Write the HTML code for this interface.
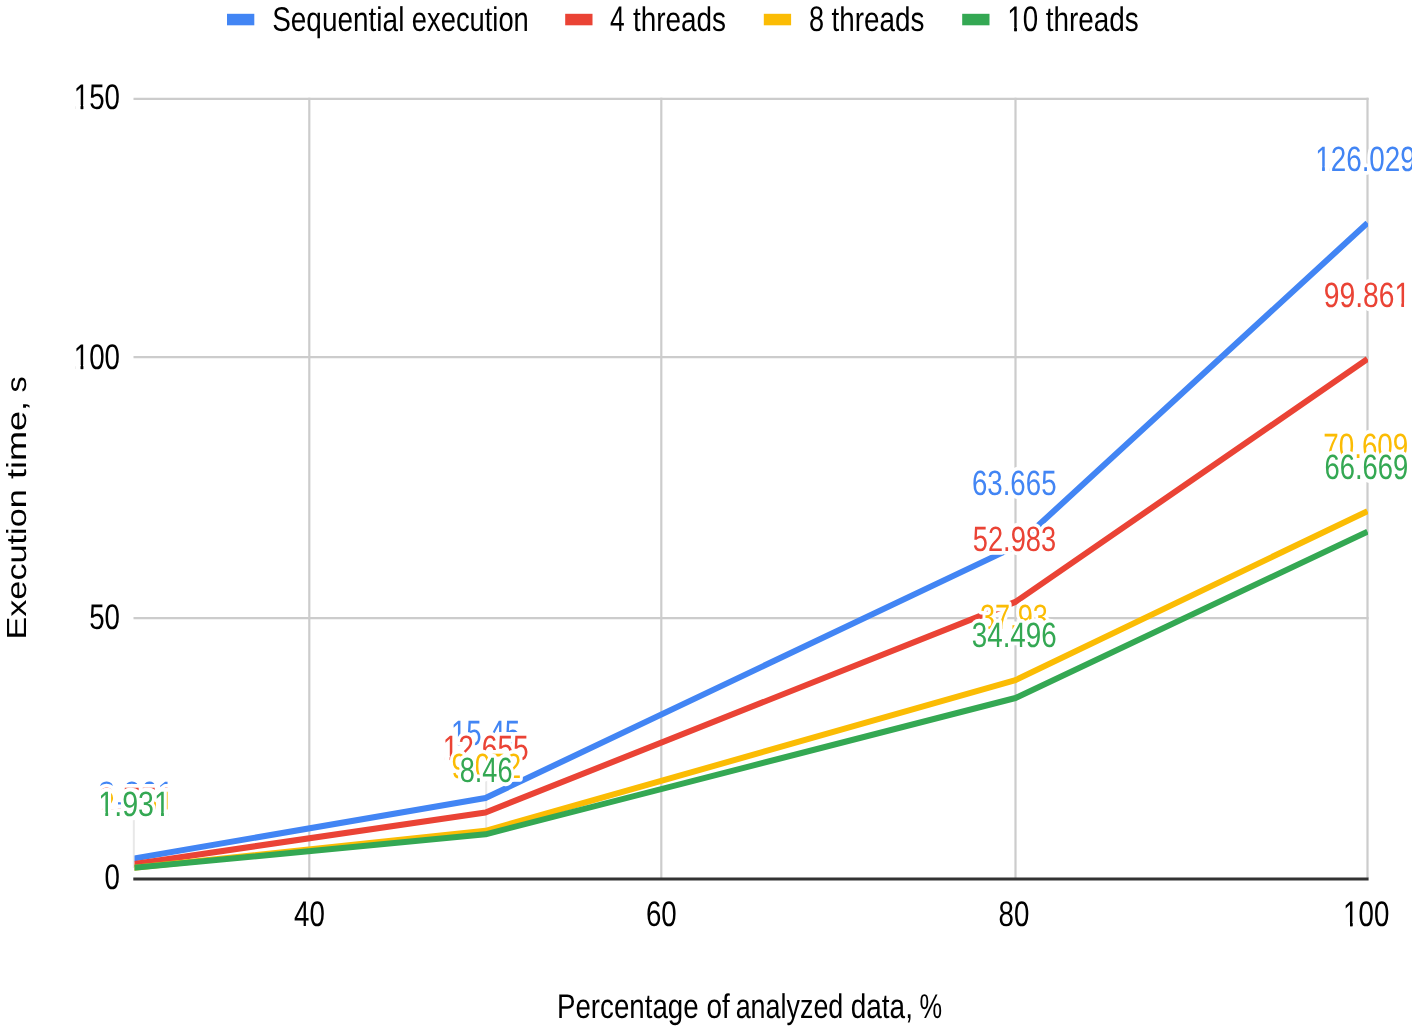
<!DOCTYPE html>
<html><head><meta charset="utf-8"><title>Execution time chart</title><style>
html,body{margin:0;padding:0;background:#fff;width:1417px;height:1032px;overflow:hidden}
svg{display:block;will-change:transform}
text{font-family:"Liberation Sans",sans-serif;text-rendering:geometricPrecision;font-kerning:none}
</style></head><body>
<svg width="1417" height="1032" viewBox="0 0 1417 1032">
<defs>
<clipPath id="plot"><rect x="134.5" y="60" width="1233.5" height="820"/></clipPath>
<clipPath id="lab"><rect x="60" y="60" width="1352" height="820"/></clipPath>
</defs>
<rect width="1417" height="1032" fill="#fff"/>
<rect x="227" y="13.8" width="27.3" height="11.5" fill="#4285F4"/>
<rect x="565.2" y="13.8" width="27.3" height="11.5" fill="#EA4335"/>
<rect x="763.8" y="13.8" width="27.3" height="11.5" fill="#FBBC04"/>
<rect x="962.2" y="13.8" width="27.3" height="11.5" fill="#34A853"/>
<g transform="translate(272.13,31.35) scale(0.8158,1)"><text x="0.000" y="0" font-size="34.3" fill="#000000" >Sequential</text></g>
<g transform="translate(411.84,31.35) scale(0.7964,1)"><text x="0.000" y="0" font-size="34.3" fill="#000000" >execution</text></g>
<g transform="translate(610.09,31.35) scale(0.7435,1)"><text x="0.000" y="0" font-size="35.5" fill="#000000" >4</text></g>
<g transform="translate(632.88,31.35) scale(0.8140,1)"><text x="0.000" y="0" font-size="34.3" fill="#000000" >threads</text></g>
<g transform="translate(809.02,31.35) scale(0.7624,1)"><text x="0.000" y="0" font-size="35.5" fill="#000000" >8</text></g>
<g transform="translate(831.58,31.35) scale(0.8114,1)"><text x="0.000" y="0" font-size="34.3" fill="#000000" >threads</text></g>
<g transform="translate(1007.33,31.35) scale(0.7813,1)"><text x="0.000" y="0" font-size="35.5" fill="#000000" >10</text><rect x="2.080" y="-4.160" width="6.795" height="5.027" fill="#fff"/><rect x="12.116" y="-4.160" width="6.431" height="5.027" fill="#fff"/><rect x="8.927" y="-3.293" width="3.137" height="3.293" fill="#000000"/></g>
<g transform="translate(1045.78,31.35) scale(0.8132,1)"><text x="0.000" y="0" font-size="34.3" fill="#000000" >threads</text></g>
<g stroke="#e8e8e8" stroke-width="2">
<line x1="486.2" y1="770" x2="486.2" y2="834"/>
<line x1="133.8" y1="805" x2="133.8" y2="868"/>
</g>
<g stroke="#cccccc" stroke-width="2.2">
<line x1="133.5" y1="98.9" x2="1368.6" y2="98.9"/>
<line x1="133.5" y1="357.1" x2="1368.6" y2="357.1"/>
<line x1="133.5" y1="618.1" x2="1368.6" y2="618.1"/>
<line x1="309.3" y1="97.8" x2="309.3" y2="878"/>
<line x1="661.3" y1="97.8" x2="661.3" y2="878"/>
<line x1="1015.5" y1="97.8" x2="1015.5" y2="878"/>
<line x1="1367.5" y1="97.8" x2="1367.5" y2="878"/>
</g>
<g clip-path="url(#plot)" fill="none" stroke-width="6" stroke-linejoin="round">
<path d="M133.50,858.59 L485.50,797.96 L1015.50,546.34 L1367.50,222.95" stroke="#4285F4"/>
<path d="M133.50,864.05 L485.50,812.49 L1015.50,601.89 L1367.50,359.02" stroke="#EA4335"/>
<path d="M133.50,867.90 L485.50,830.82 L1015.50,680.16 L1367.50,511.13" stroke="#FBBC04"/>
<path d="M133.50,867.90 L485.50,834.31 L1015.50,698.02 L1367.50,531.62" stroke="#34A853"/>
</g>
<line x1="133.3" y1="879" x2="1368.6" y2="879" stroke="#333333" stroke-width="3"/>
<g clip-path="url(#lab)">
<g transform="translate(98.35,806.20) scale(0.8593,1)"><text x="0.000" y="0" font-size="35.2" fill="#4285F4" stroke="#fff" stroke-width="7.6" stroke-linejoin="round" paint-order="stroke">3.861</text><rect x="70.572" y="-4.125" width="6.738" height="4.984" fill="#fff"/><rect x="80.523" y="-4.125" width="6.377" height="4.984" fill="#fff"/><rect x="77.361" y="-3.266" width="3.111" height="3.266" fill="#4285F4"/></g>
<g transform="translate(450.94,745.40) scale(0.7859,1)"><text x="0.000" y="0" font-size="35.2" fill="#4285F4" stroke="#fff" stroke-width="7.6" stroke-linejoin="round" paint-order="stroke">15.45</text><rect x="2.062" y="-4.125" width="6.738" height="4.984" fill="#fff"/><rect x="12.014" y="-4.125" width="6.377" height="4.984" fill="#fff"/><rect x="8.852" y="-3.266" width="3.111" height="3.266" fill="#4285F4"/></g>
<g transform="translate(971.89,495.10) scale(0.7864,1)"><text x="0.000" y="0" font-size="35.2" fill="#4285F4" stroke="#fff" stroke-width="7.6" stroke-linejoin="round" paint-order="stroke">63.665</text></g>
<g transform="translate(1315.22,170.50) scale(0.7906,1)"><text x="0.000" y="0" font-size="35.2" fill="#4285F4" stroke="#fff" stroke-width="7.6" stroke-linejoin="round" paint-order="stroke">126.029</text><rect x="2.062" y="-4.125" width="6.738" height="4.984" fill="#fff"/><rect x="12.014" y="-4.125" width="6.377" height="4.984" fill="#fff"/><rect x="8.852" y="-3.266" width="3.111" height="3.266" fill="#4285F4"/></g>
<g transform="translate(97.97,811.90) scale(0.8640,1)"><text x="0.000" y="0" font-size="35.2" fill="#EA4335" stroke="#fff" stroke-width="7.6" stroke-linejoin="round" paint-order="stroke">2.751</text><rect x="70.572" y="-4.125" width="6.738" height="4.984" fill="#fff"/><rect x="80.523" y="-4.125" width="6.377" height="4.984" fill="#fff"/><rect x="77.361" y="-3.266" width="3.111" height="3.266" fill="#EA4335"/></g>
<g transform="translate(442.69,760.20) scale(0.7996,1)"><text x="0.000" y="0" font-size="35.2" fill="#EA4335" stroke="#fff" stroke-width="7.6" stroke-linejoin="round" paint-order="stroke">12.655</text><rect x="2.062" y="-4.125" width="6.738" height="4.984" fill="#fff"/><rect x="12.014" y="-4.125" width="6.377" height="4.984" fill="#fff"/><rect x="8.852" y="-3.266" width="3.111" height="3.266" fill="#EA4335"/></g>
<g transform="translate(972.81,550.50) scale(0.7736,1)"><text x="0.000" y="0" font-size="35.2" fill="#EA4335" stroke="#fff" stroke-width="7.6" stroke-linejoin="round" paint-order="stroke">52.983</text></g>
<g transform="translate(1323.78,306.60) scale(0.8018,1)"><text x="0.000" y="0" font-size="35.2" fill="#EA4335" stroke="#fff" stroke-width="7.6" stroke-linejoin="round" paint-order="stroke">99.861</text><rect x="90.148" y="-4.125" width="6.738" height="4.984" fill="#fff"/><rect x="100.100" y="-4.125" width="6.377" height="4.984" fill="#fff"/><rect x="96.938" y="-3.266" width="3.111" height="3.266" fill="#EA4335"/></g>
<g transform="translate(97.97,815.50) scale(0.8640,1)"><text x="0.000" y="0" font-size="35.2" fill="#FBBC04" stroke="#fff" stroke-width="7.6" stroke-linejoin="round" paint-order="stroke">2.301</text><rect x="70.572" y="-4.125" width="6.738" height="4.984" fill="#fff"/><rect x="80.523" y="-4.125" width="6.377" height="4.984" fill="#fff"/><rect x="77.361" y="-3.266" width="3.111" height="3.266" fill="#FBBC04"/></g>
<g transform="translate(451.49,778.40) scale(0.7913,1)"><text x="0.000" y="0" font-size="35.2" fill="#FBBC04" stroke="#fff" stroke-width="7.6" stroke-linejoin="round" paint-order="stroke">9.052</text></g>
<g transform="translate(979.97,628.60) scale(0.7700,1)"><text x="0.000" y="0" font-size="35.2" fill="#FBBC04" stroke="#fff" stroke-width="7.6" stroke-linejoin="round" paint-order="stroke">37.93</text></g>
<g transform="translate(1323.27,458.30) scale(0.7899,1)"><text x="0.000" y="0" font-size="35.2" fill="#FBBC04" stroke="#fff" stroke-width="7.6" stroke-linejoin="round" paint-order="stroke">70.609</text></g>
<g transform="translate(98.35,816.00) scale(0.8121,1)"><text x="0.000" y="0" font-size="35.2" fill="#34A853" stroke="#fff" stroke-width="7.6" stroke-linejoin="round" paint-order="stroke">1.931</text><rect x="2.062" y="-4.125" width="6.738" height="4.984" fill="#fff"/><rect x="12.014" y="-4.125" width="6.377" height="4.984" fill="#fff"/><rect x="8.852" y="-3.266" width="3.111" height="3.266" fill="#34A853"/><rect x="70.572" y="-4.125" width="6.738" height="4.984" fill="#fff"/><rect x="80.523" y="-4.125" width="6.377" height="4.984" fill="#fff"/><rect x="77.361" y="-3.266" width="3.111" height="3.266" fill="#34A853"/></g>
<g transform="translate(459.72,781.70) scale(0.7703,1)"><text x="0.000" y="0" font-size="35.2" fill="#34A853" stroke="#fff" stroke-width="7.6" stroke-linejoin="round" paint-order="stroke">8.46</text></g>
<g transform="translate(971.74,646.70) scale(0.7893,1)"><text x="0.000" y="0" font-size="35.2" fill="#34A853" stroke="#fff" stroke-width="7.6" stroke-linejoin="round" paint-order="stroke">34.496</text></g>
<g transform="translate(1324.51,479.30) scale(0.7783,1)"><text x="0.000" y="0" font-size="35.2" fill="#34A853" stroke="#fff" stroke-width="7.6" stroke-linejoin="round" paint-order="stroke">66.669</text></g>
</g>
<g transform="translate(120.00,109.20) scale(0.7803,1)"><text x="-59.230" y="0" font-size="35.5" fill="#000000" >150</text><rect x="-57.150" y="-4.160" width="6.795" height="5.027" fill="#fff"/><rect x="-47.114" y="-4.160" width="6.431" height="5.027" fill="#fff"/><rect x="-50.303" y="-3.293" width="3.137" height="3.293" fill="#000000"/></g>
<g transform="translate(120.00,369.20) scale(0.7803,1)"><text x="-59.230" y="0" font-size="35.5" fill="#000000" >100</text><rect x="-57.150" y="-4.160" width="6.795" height="5.027" fill="#fff"/><rect x="-47.114" y="-4.160" width="6.431" height="5.027" fill="#fff"/><rect x="-50.303" y="-3.293" width="3.137" height="3.293" fill="#000000"/></g>
<g transform="translate(120.00,629.20) scale(0.7803,1)"><text x="-39.487" y="0" font-size="35.5" fill="#000000" >50</text></g>
<g transform="translate(120.00,889.20) scale(0.7803,1)"><text x="-19.743" y="0" font-size="35.5" fill="#000000" >0</text></g>
<g transform="translate(309.40,926.40) scale(0.7803,1)"><text x="-19.743" y="0" font-size="35.5" fill="#000000" >40</text></g>
<g transform="translate(661.30,926.40) scale(0.7803,1)"><text x="-19.743" y="0" font-size="35.5" fill="#000000" >60</text></g>
<g transform="translate(1013.90,926.40) scale(0.7803,1)"><text x="-19.743" y="0" font-size="35.5" fill="#000000" >80</text></g>
<g transform="translate(1366.20,926.40) scale(0.7803,1)"><text x="-29.615" y="0" font-size="35.5" fill="#000000" >100</text><rect x="-27.535" y="-4.160" width="6.795" height="5.027" fill="#fff"/><rect x="-17.499" y="-4.160" width="6.431" height="5.027" fill="#fff"/><rect x="-20.688" y="-3.293" width="3.137" height="3.293" fill="#000000"/></g>
<g transform="translate(556.93,1018.20) scale(0.8077,1)"><text x="0.000" y="0" font-size="34.3" fill="#000000" >Percentage</text></g>
<g transform="translate(706.53,1018.20) scale(0.8157,1)"><text x="0.000" y="0" font-size="34.3" fill="#000000" >of</text></g>
<g transform="translate(735.66,1018.20) scale(0.7842,1)"><text x="0.000" y="0" font-size="34.3" fill="#000000" >analyzed</text></g>
<g transform="translate(850.73,1018.20) scale(0.8152,1)"><text x="0.000" y="0" font-size="34.3" fill="#000000" >data,</text></g>
<g transform="translate(919.59,1018.20) scale(0.7415,1)"><text x="0.000" y="0" font-size="34.3" fill="#000000" >%</text></g>
<g transform="translate(25.95,0) rotate(-90)"><g transform="translate(-639.61,0.00) scale(1.2411,1)"><text x="0.000" y="0" font-size="27.6" fill="#000000" >Execution</text></g><g transform="translate(-479.05,0.00) scale(1.3055,1)"><text x="0.000" y="0" font-size="27.6" fill="#000000" >time,</text></g><g transform="translate(-392.61,0.00) scale(1.1799,1)"><text x="0.000" y="0" font-size="27.6" fill="#000000" >s</text></g></g>
</svg></body></html>
